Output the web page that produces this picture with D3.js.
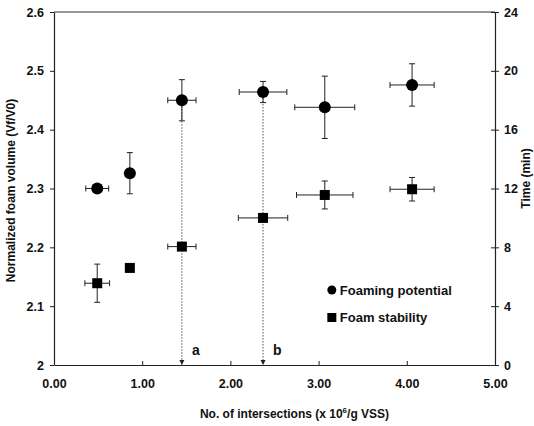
<!DOCTYPE html>
<html>
<head>
<meta charset="utf-8">
<script src="https://cdn.jsdelivr.net/npm/d3@7"></script>
<style>
    body { margin: 0; background: white; }
    #chart { width: 534px; height: 426px; }
    text { font-family: "Liberation Sans", Arial, sans-serif; font-weight: bold; fill: #111; }
</style>
</head>
<body>
<div id="chart"></div>
<script>
// intersections (x 10^6 / g VSS) for each sample
const intersections = [0.49, 0.86, 1.45, 2.37, 3.07, 4.06];
const intersectionsErr = [0.13, 0, 0.16, 0.27, 0.34, 0.25];
const stabilityXErr = [0.14, 0, 0.16, 0.28, 0.32, 0.25];

// foaming potential - normalized foam volume (Vf/V0), left axis
const foamingPotential = [2.30, 2.326, 2.45, 2.464, 2.438, 2.476];
const foamingPotentialErr = [0, 0.035, 0.035, 0.018, 0.053, 0.036];

// foam stability - time (min), right axis
const foamStability = [5.56, 6.6, 8.05, 10.0, 11.56, 11.95];
const foamStabilityErr = [1.3, 0, 0, 0, 0.95, 0.8];

// ticks
const xTicks = [0, 1, 2, 3, 4, 5];
const leftTicks = [2, 2.1, 2.2, 2.3, 2.4, 2.5, 2.6];
const rightTicks = [0, 4, 8, 12, 16, 20, 24];

// arrows marking sample a and b
const markers = [{label: "a", x: 1.45, y: 2.45}, {label: "b", x: 2.37, y: 2.464}];

class FoamChart {

    constructor(parentElement) {
        this.parentElement = parentElement;
        this.initVis();
    }

    initVis() {
        let vis = this;

        vis.margin = {top: 12, right: 39, bottom: 61, left: 54};
        vis.width = 534 - vis.margin.left - vis.margin.right;
        vis.height = 426 - vis.margin.top - vis.margin.bottom;

        vis.svg = d3.select("#" + vis.parentElement).append("svg")
            .attr("width", 534)
            .attr("height", 426)
            .append("g")
            .attr("transform", "translate(" + vis.margin.left + "," + vis.margin.top + ")");

        // scales
        vis.x = d3.scaleLinear().domain([0, 5]).range([0, vis.width]);
        vis.yLeft = d3.scaleLinear().domain([2, 2.6]).range([vis.height, 0]);
        vis.yRight = d3.scaleLinear().domain([0, 24]).range([vis.height, 0]);

        // arrowhead
        vis.svg.append("defs").append("marker")
            .attr("id", "arrow")
            .attr("viewBox", "0 0 10 10")
            .attr("refX", 10).attr("refY", 5)
            .attr("markerWidth", 6).attr("markerHeight", 6)
            .attr("orient", "auto")
            .append("path")
            .attr("d", "M0,0 L10,5 L0,10 z")
            .attr("fill", "#222");

        vis.drawAxes();
        vis.updateVis();
    }

    drawAxes() {
        let vis = this;

        // top border
        vis.svg.append("line")
            .attr("x1", 0).attr("x2", vis.width)
            .attr("y1", 0).attr("y2", 0)
            .attr("stroke", "#333").attr("stroke-width", 1.2);

        // x axis - small inward ticks
        let xAxis = d3.axisBottom(vis.x)
            .tickValues(xTicks)
            .tickFormat(d3.format(".2f"))
            .tickSizeInner(-4)
            .tickSizeOuter(0)
            .tickPadding(14);
        let gx = vis.svg.append("g")
            .attr("transform", "translate(0," + vis.height + ")")
            .call(xAxis);
        gx.selectAll("text").style("font-size", "12.5px");

        // left axis
        let yAxisL = d3.axisLeft(vis.yLeft)
            .tickValues(leftTicks)
            .tickFormat(d => d === 2 ? "2" : d3.format(".1f")(d))
            .tickSizeInner(4)
            .tickSizeOuter(0)
            .tickPadding(6);
        let gl = vis.svg.append("g").call(yAxisL);
        gl.selectAll("text").style("font-size", "12.5px");

        // right axis - crossing ticks
        let yAxisR = d3.axisRight(vis.yRight)
            .tickValues(rightTicks)
            .tickSizeInner(4)
            .tickSizeOuter(0)
            .tickPadding(5);
        let gr = vis.svg.append("g")
            .attr("transform", "translate(" + vis.width + ",0)")
            .call(yAxisR);
        gr.selectAll(".tick line").attr("x1", -4);
        gr.selectAll("text").style("font-size", "12.5px");

        [gx, gl, gr].forEach(g => {
            g.select(".domain").attr("stroke", "#222").attr("stroke-width", 1.2);
            g.selectAll(".tick line").attr("stroke", "#222");
            g.attr("font-family", null).attr("font-size", null);
        });

        // axis titles
        vis.svg.append("text")
            .attr("transform", `translate(${-39}, ${vis.height / 2 + 2}) rotate(-90)`)
            .attr("text-anchor", "middle")
            .style("font-size", "12px")
            .text("Normalized foam volume (Vf/V0)");

        vis.svg.append("text")
            .attr("transform", `translate(${vis.width + 35}, ${vis.height / 2 - 10}) rotate(-90)`)
            .attr("text-anchor", "middle")
            .style("font-size", "12px")
            .text("Time (min)");

        let xt = vis.svg.append("text")
            .attr("x", vis.width / 2 + 20)
            .attr("y", vis.height + 53)
            .attr("text-anchor", "middle")
            .style("font-size", "12px");
        xt.append("tspan").text("No. of intersections (x 10");
        xt.append("tspan").attr("dy", -5).style("font-size", "8px").text("6");
        xt.append("tspan").attr("dy", 5).text("/g VSS)");
    }

    updateVis() {
        let vis = this;
        let cap = 3;

        // dotted arrows down to the axis
        vis.svg.selectAll(".drop")
            .data(markers)
            .enter().append("line")
            .attr("class", "drop")
            .attr("x1", d => vis.x(d.x)).attr("x2", d => vis.x(d.x))
            .attr("y1", d => vis.yLeft(d.y))
            .attr("y2", vis.height)
            .attr("stroke", "#444")
            .attr("stroke-width", 0.9)
            .attr("stroke-dasharray", "1.5,1.5")
            .attr("marker-end", "url(#arrow)");

        vis.svg.selectAll(".drop-label")
            .data(markers)
            .enter().append("text")
            .attr("class", "drop-label")
            .attr("x", d => vis.x(d.x) + 10)
            .attr("y", vis.height - 10)
            .style("font-size", "14px")
            .text(d => d.label);

        // build point rows
        let potential = intersections.map((x, i) => ({
            x: x, xe: intersectionsErr[i], y: vis.yLeft(foamingPotential[i]),
            y0: vis.yLeft(foamingPotential[i] - foamingPotentialErr[i]),
            y1: vis.yLeft(foamingPotential[i] + foamingPotentialErr[i])
        }));
        let stability = intersections.map((x, i) => ({
            x: x, xe: stabilityXErr[i], y: vis.yRight(foamStability[i]),
            y0: vis.yRight(foamStability[i] - foamStabilityErr[i]),
            y1: vis.yRight(foamStability[i] + foamStabilityErr[i])
        }));

        let drawErrors = function(cls, rows) {
            let g = vis.svg.append("g").attr("class", cls)
                .attr("stroke", "#222").attr("stroke-width", 1);
            rows.forEach(d => {
                if (d.xe > 0) {
                    let xa = vis.x(d.x - d.xe), xb = vis.x(d.x + d.xe);
                    g.append("line").attr("x1", xa).attr("x2", xb).attr("y1", d.y).attr("y2", d.y);
                    g.append("line").attr("x1", xa).attr("x2", xa).attr("y1", d.y - cap).attr("y2", d.y + cap);
                    g.append("line").attr("x1", xb).attr("x2", xb).attr("y1", d.y - cap).attr("y2", d.y + cap);
                }
                if (d.y0 - d.y1 > 0.5) {
                    let cx = vis.x(d.x);
                    g.append("line").attr("x1", cx).attr("x2", cx).attr("y1", d.y0).attr("y2", d.y1);
                    g.append("line").attr("x1", cx - cap).attr("x2", cx + cap).attr("y1", d.y0).attr("y2", d.y0);
                    g.append("line").attr("x1", cx - cap).attr("x2", cx + cap).attr("y1", d.y1).attr("y2", d.y1);
                }
            });
        };

        drawErrors("err-potential", potential);
        drawErrors("err-stability", stability);

        // markers
        vis.svg.selectAll(".circ")
            .data(potential)
            .enter().append("circle")
            .attr("class", "circ")
            .attr("cx", d => vis.x(d.x))
            .attr("cy", d => d.y)
            .attr("r", 6)
            .attr("fill", "#000");

        vis.svg.selectAll(".sq")
            .data(stability)
            .enter().append("rect")
            .attr("class", "sq")
            .attr("x", d => vis.x(d.x) - 5)
            .attr("y", d => d.y - 5)
            .attr("width", 10)
            .attr("height", 10)
            .attr("fill", "#000");

        // legend
        vis.legend = vis.svg.append("g")
            .attr("transform", `translate(${vis.x(3.15)}, ${vis.yRight(5.1)})`);
        vis.legend.append("circle").attr("cx", 0).attr("cy", 0).attr("r", 4.5).attr("fill", "#000");
        vis.legend.append("text").attr("x", 8).attr("y", 5).style("font-size", "13px").text("Foaming potential");
        vis.legend.append("rect").attr("x", -4.5).attr("y", 23).attr("width", 9).attr("height", 9).attr("fill", "#000");
        vis.legend.append("text").attr("x", 8).attr("y", 32).style("font-size", "13px").text("Foam stability");
    }
}

new FoamChart("chart");
</script>
</body>
</html>
